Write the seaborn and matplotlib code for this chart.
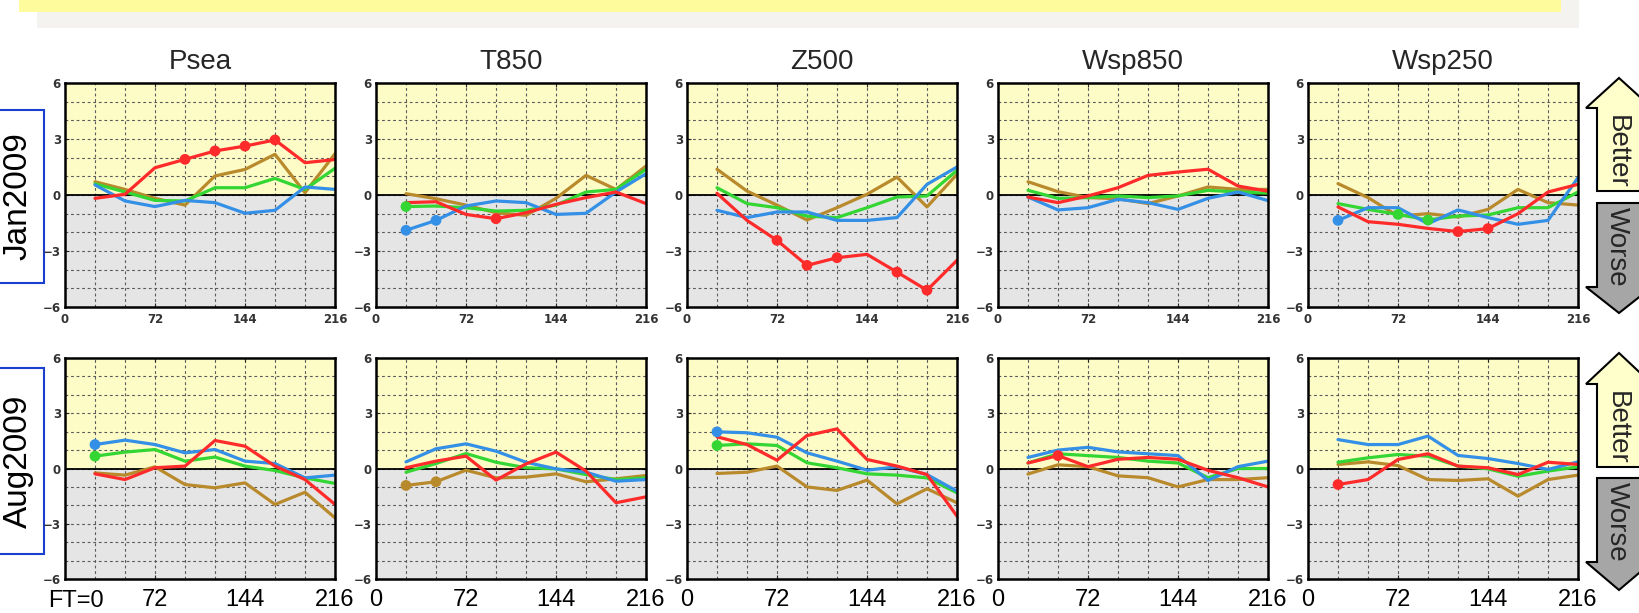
import numpy as np
import pandas as pd
import seaborn as sns
import matplotlib.pyplot as plt
from matplotlib.patches import Polygon, Rectangle

# forecast times (hours)
ft = [24, 48, 72, 96, 120, 144, 168, 192, 216]
variables = ['Psea', 'T850', 'Z500', 'Wsp850', 'Wsp250']
months = ['Jan2009', 'Aug2009']

# ---- Jan2009 ----
psea_jan_red = [-0.18, 0.04, 1.46, 1.91, 2.36, 2.62, 2.95, 1.73, 1.9]
psea_jan_green = [0.6, 0.16, -0.29, -0.32, 0.39, 0.39, 0.89, 0.3, 1.43]
psea_jan_blue = [0.54, -0.32, -0.62, -0.29, -0.41, -0.98, -0.82, 0.43, 0.3]
psea_jan_brown = [0.71, 0.3, -0.18, -0.54, 1.02, 1.37, 2.18, 0.12, 2.21]

t850_jan_red = [-0.41, -0.36, -1.04, -1.27, -0.95, -0.5, -0.14, 0.16, -0.46]
t850_jan_green = [-0.62, -0.59, -0.68, -0.86, -0.82, -0.54, 0.16, 0.3, 1.38]
t850_jan_blue = [-1.89, -1.36, -0.59, -0.32, -0.41, -1.04, -0.98, 0.16, 1.14]
t850_jan_brown = [0.07, -0.2, -0.54, -0.95, -1.09, -0.18, 1.05, 0.3, 1.55]

z500_jan_red = [0.09, -1.36, -2.43, -3.77, -3.36, -3.18, -4.13, -5.1, -3.5]
z500_jan_green = [0.39, -0.46, -0.68, -1.13, -1.21, -0.68, -0.11, -0.05, 1.32]
z500_jan_blue = [-0.82, -1.21, -0.91, -0.91, -1.36, -1.36, -1.21, 0.57, 1.5]
z500_jan_brown = [1.38, 0.21, -0.54, -1.34, -0.68, 0.04, 0.96, -0.64, 1.11]

wsp850_jan_red = [-0.11, -0.41, -0.05, 0.39, 1.05, 1.23, 1.38, 0.48, 0.2]
wsp850_jan_green = [0.25, -0.18, -0.14, -0.05, -0.14, -0.05, 0.25, 0.16, 0.1]
wsp850_jan_blue = [-0.11, -0.8, -0.68, -0.23, -0.41, -0.77, -0.18, 0.16, -0.3]
wsp850_jan_brown = [0.71, 0.18, -0.14, -0.2, -0.46, -0.05, 0.43, 0.3, 0.3]

wsp250_jan_red = [-0.64, -1.43, -1.57, -1.79, -1.96, -1.8, -1.0, 0.16, 0.57]
wsp250_jan_green = [-0.46, -0.77, -1.04, -1.34, -1.13, -1.07, -0.68, -0.68, 0.16]
wsp250_jan_blue = [-1.36, -0.68, -0.68, -1.54, -0.8, -1.21, -1.57, -1.36, 0.93]
wsp250_jan_brown = [0.61, -0.14, -1.13, -1.0, -1.18, -0.77, 0.3, -0.41, -0.54]

# ---- Aug2009 ----
psea_aug_red = [-0.29, -0.6, 0.04, 0.13, 1.52, 1.21, 0.13, -0.6, -1.95]
psea_aug_green = [0.67, 0.89, 1.03, 0.4, 0.62, 0.13, -0.11, -0.51, -0.81]
psea_aug_blue = [1.3, 1.54, 1.3, 0.85, 1.03, 0.4, 0.27, -0.51, -0.36]
psea_aug_brown = [-0.24, -0.36, 0.09, -0.87, -1.05, -0.78, -1.95, -1.29, -2.68]

t850_aug_red = [0.04, 0.4, 0.67, -0.63, 0.25, 0.89, -0.14, -1.86, -1.54]
t850_aug_green = [-0.2, 0.27, 0.81, 0.34, 0.04, -0.02, -0.33, -0.6, -0.51]
t850_aug_blue = [0.36, 1.07, 1.34, 0.94, 0.34, -0.02, -0.2, -0.69, -0.6]
t850_aug_brown = [-0.92, -0.72, -0.09, -0.51, -0.47, -0.29, -0.72, -0.56, -0.38]

z500_aug_red = [1.72, 1.3, 0.45, 1.79, 2.15, 0.49, 0.13, -0.33, -2.59]
z500_aug_green = [1.25, 1.34, 1.25, 0.31, 0.04, -0.29, -0.36, -0.51, -1.32]
z500_aug_blue = [1.99, 1.94, 1.7, 0.85, 0.4, -0.09, 0.09, -0.33, -1.23]
z500_aug_brown = [-0.27, -0.2, 0.13, -1.0, -1.19, -0.63, -1.92, -1.1, -1.86]

wsp850_aug_red = [0.3, 0.7, 0.1, 0.5, 0.6, 0.5, -0.1, -0.5, -1.0]
wsp850_aug_green = [0.3, 0.8, 0.7, 0.6, 0.4, 0.3, -0.5, 0.0, 0.0]
wsp850_aug_blue = [0.6, 1.0, 1.15, 0.9, 0.8, 0.7, -0.65, 0.1, 0.4]
wsp850_aug_brown = [-0.3, 0.2, 0.1, -0.4, -0.5, -1.0, -0.6, -0.6, -0.5]

wsp250_aug_red = [-0.87, -0.6, 0.49, 0.8, 0.13, 0.04, -0.33, 0.34, 0.22]
wsp250_aug_green = [0.34, 0.58, 0.76, 0.67, 0.13, -0.02, -0.42, -0.14, 0.09]
wsp250_aug_blue = [1.57, 1.3, 1.3, 1.76, 0.71, 0.54, 0.27, -0.05, 0.36]
wsp250_aug_brown = [0.22, 0.36, 0.16, -0.6, -0.65, -0.56, -1.5, -0.6, -0.36]

# forecast times that carry a dot (significant difference)
dots = {
    ('Jan2009', 'Psea'): {'red': [96, 120, 144, 168]},
    ('Jan2009', 'T850'): {'red': [96], 'green': [24], 'blue': [24, 48]},
    ('Jan2009', 'Z500'): {'red': [72, 96, 120, 168, 192]},
    ('Jan2009', 'Wsp250'): {'red': [120, 144], 'green': [72, 96], 'blue': [24]},
    ('Aug2009', 'Psea'): {'blue': [24], 'green': [24]},
    ('Aug2009', 'T850'): {'brown': [24, 48]},
    ('Aug2009', 'Z500'): {'blue': [24], 'green': [24]},
    ('Aug2009', 'Wsp850'): {'red': [48]},
    ('Aug2009', 'Wsp250'): {'red': [24]},
}

colors = {'brown': '#b98a2c', 'green': '#33d633', 'blue': '#3390e6', 'red': '#ff2a2a'}

g = globals()

W, H = 1640, 613
sns.set_theme(style='white')
plt.rcParams['font.family'] = ['Liberation Sans', 'DejaVu Sans']
fig = plt.figure(figsize=(W / 100, H / 100), dpi=100)

# overlay in pixel coordinates for banner, row labels and arrows
ov = fig.add_axes([0, 0, 1, 1])
ov.set_xlim(0, W)
ov.set_ylim(H, 0)
ov.axis('off')
ov.add_patch(Rectangle((37, 0), 1542, 28, color='#f4f3ef', lw=0))
ov.add_patch(Rectangle((19, 0), 1542, 12, color='#fdfb9c', lw=0))

lefts = [65, 376, 687, 998, 1308]
rows = [(83, 307), (358, 579)]
box_y = [(110, 283), (368, 554)]
arrows = [(78, 108, 191, 203, 287, 313), (353, 384, 467, 478, 562, 590)]

for r, month in enumerate(months):
    y0, y1 = rows[r]
    # row label box
    by0, by1 = box_y[r]
    ov.add_patch(Rectangle((-3, by0), 47, by1 - by0, facecolor='white',
                           edgecolor='#1a3fcf', lw=1.5))
    ov.text(18, (by0 + by1) / 2, month, rotation=90, ha='center', va='center',
            fontsize=24, color='black')
    # better / worse arrows
    t, sh, b, wt, wsh, wtip = arrows[r]
    ov.add_patch(Polygon([(1597, b), (1597, sh), (1586, sh), (1619, t), (1652, sh),
                          (1641, sh), (1641, b)], closed=True,
                         facecolor='#ffffcc', edgecolor='black', lw=1.5))
    ov.add_patch(Polygon([(1597, wt), (1641, wt), (1641, wsh), (1652, wsh), (1619, wtip),
                          (1586, wsh), (1597, wsh)], closed=True,
                         facecolor='#a6a6a6', edgecolor='black', lw=1.5))
    ov.text(1617, (sh + b) / 2 + 2, 'Better', rotation=-90, ha='center', va='center', fontsize=20)
    ov.text(1617, (wt + wsh) / 2 + 2, 'Worse', rotation=-90, ha='center', va='center', fontsize=20)

    for c, var in enumerate(variables):
        ax = fig.add_axes([lefts[c] / W, 1 - y1 / H, 270 / W, (y1 - y0) / H])
        ax.axhspan(0, 6, color='#fdfbc6', lw=0, zorder=1)
        ax.axhspan(-6, 0, color='#e5e5e5', lw=0, zorder=1)
        ax.axhline(0, color='black', lw=1.3, zorder=2)
        key = var.lower() + '_' + month[:3].lower()
        for name in ['brown', 'green', 'blue', 'red']:
            vals = g[key + '_' + name]
            sns.lineplot(x=ft, y=vals, color=colors[name], lw=2.3, ax=ax, zorder=3)
            sel = dots.get((month, var), {}).get(name, [])
            if sel:
                sns.scatterplot(x=sel, y=[vals[ft.index(f)] for f in sel], color=colors[name],
                                s=60, edgecolor='none', ax=ax, zorder=4)
        ax.set_xlim(0, 216)
        ax.set_ylim(-6, 6)
        ax.set_xticks([0, 72, 144, 216])
        ax.set_xticks(range(0, 217, 24), minor=True)
        ax.set_yticks([-6, -3, 0, 3, 6])
        ax.set_yticks(range(-6, 7), minor=True)
        ax.set_yticklabels(['\u22126', '\u22123', '0', '3', '6'], fontsize=8.5,
                           fontweight='bold', color='#333333', family='DejaVu Sans')
        if r == 0:
            ax.set_xticklabels(['0', '72', '144', '216'], fontsize=8.5,
                               fontweight='bold', color='#333333', family='DejaVu Sans')
            ax.set_title(var, fontsize=20, pad=10)
            ax.tick_params(axis='x', pad=4)
        else:
            first = '' if c == 0 else '0'
            ax.set_xticklabels([first, '72', '144', '216'], fontsize=17, color='black')
            ax.tick_params(axis='x', pad=7)
        ax.set_axisbelow('line')
        ax.grid(True, which='both', linestyle=(0, (2.5, 2.5)), color='#5a5a5a', lw=0.8)
        ax.tick_params(which='major', direction='in', length=3, width=0.8,
                       left=True, bottom=True, top=True, right=True)
        ax.tick_params(which='minor', length=0)
        ax.tick_params(axis='y', pad=3)
        ax.set_xlabel('')
        ax.set_ylabel('')
        for s in ax.spines.values():
            s.set_color('black')
            s.set_linewidth(1.8)
            s.set_zorder(5)

# the first forecast-time label sits a little right of the axis origin
ov.text(76, 601, 'FT=0', ha='center', va='center', fontsize=17, color='black')

fig.savefig('out.png', dpi=100)
